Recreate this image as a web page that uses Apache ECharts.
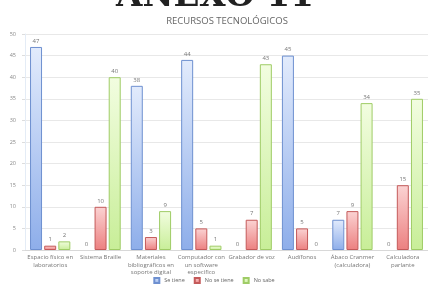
<!DOCTYPE html>
<html lang="es">
<head>
    <meta charset="UTF-8">
    <title>Recursos tecnológicos</title>
    <style>
        html, body { margin: 0; padding: 0; background: #fff; }
        #main { width: 428px; height: 291px; }
    </style>
    <script src="https://cdn.jsdelivr.net/npm/echarts@6/dist/echarts.min.js"></script>
</head>
<body>
    <div id="main"></div>
    <script>
        // datos
        var categorias = [
            'Espacio físico en\nlaboratorios',
            'Sistema Braille',
            'Materiales\nbibliográficos en\nsoporte digital',
            'Computador con\nun software\nespecífico',
            'Grabador de voz',
            'Audífonos',
            'Ábaco Cranmer\n(calculadora)',
            'Calculadora\nparlante'
        ];
        var seTiene = [47, 0, 38, 44, 0, 45, 7, 0];
        var noSeTiene = [1, 10, 3, 5, 7, 5, 9, 15];
        var noSabe = [2, 40, 9, 1, 43, 0, 34, 35];
        var yTicks = [0, 5, 10, 15, 20, 25, 30, 35, 40, 45, 50];

        function grad(top, bottom) {
            return new echarts.graphic.LinearGradient(0, 0, 0, 1, [
                { offset: 0, color: top },
                { offset: 1, color: bottom }
            ]);
        }

        function serie(name, data, top, bottom, border) {
            // sin borde cuando el valor es 0
            var items = data.map(function (v) {
                return v === 0 ? { value: v, itemStyle: { borderWidth: 0 } } : v;
            });
            return {
                name: name,
                type: 'bar',
                data: items,
                barGap: '18%',
                barCategoryGap: '20%',
                itemStyle: { color: grad(top, bottom), borderColor: border, borderWidth: 1 },
                label: { show: true, position: 'top', distance: 3, fontSize: 6, color: '#777' }
            };
        }

        var chart = echarts.init(document.getElementById('main'));
        var font = '"Open Sans", sans-serif';

        var option = {
            textStyle: { fontFamily: font },
            animation: false,
            // encabezado grande cortado en el borde superior
            graphic: [{
                type: 'text',
                x: 116,
                y: -20,
                z: 10,
                style: {
                    text: 'ANEXO 11',
                    fontSize: 34,
                    fontWeight: 'bold',
                    fontFamily: '"DejaVu Serif", serif',
                    fill: '#222'
                }
            }],
            title: {
                text: 'RECURSOS TECNOLÓGICOS',
                left: 222,
                textAlign: 'center',
                top: 11,
                textStyle: { fontSize: 9.5, fontWeight: 'normal', color: '#666', fontFamily: font }
            },
            legend: {
                bottom: 2,
                left: 'center',
                icon: 'rect',
                itemWidth: 5,
                itemHeight: 5,
                itemGap: 9,
                textStyle: { fontSize: 5.5, color: '#666' },
                data: ['Se tiene', 'No se tiene', 'No sabe']
            },
            grid: { left: 25, top: 34, width: 408, bottom: 41 },
            xAxis: {
                type: 'category',
                data: categorias,
                axisLine: { lineStyle: { color: '#d8d8d8' } },
                axisTick: { show: false },
                axisLabel: { fontSize: 6, color: '#777', lineHeight: 7.5, margin: 4, interval: 0 }
            },
            yAxis: {
                type: 'value',
                min: 0,
                max: 50,
                interval: 5,
                axisLine: { show: true, lineStyle: { color: '#e4ecf6' } },
                axisTick: { show: true, length: 3, lineStyle: { color: '#ddd' } },
                splitLine: { lineStyle: { color: '#e8e8e8' } },
                axisLabel: {
                    fontSize: 5.5, color: '#888', margin: 9,
                    formatter: function (v) { return yTicks.indexOf(v) >= 0 ? String(v) : ''; }
                }
            },
            series: [
                serie('Se tiene', seTiene, '#e2ebfc', '#8eaeea', '#6e90d0'),
                serie('No se tiene', noSeTiene, '#fbd3d3', '#ec8080', '#c45a5a'),
                serie('No sabe', noSabe, '#f2fde0', '#c8ee98', '#9fcc66')
            ]
        };

        chart.setOption(option);
    </script>
</body>
</html>
